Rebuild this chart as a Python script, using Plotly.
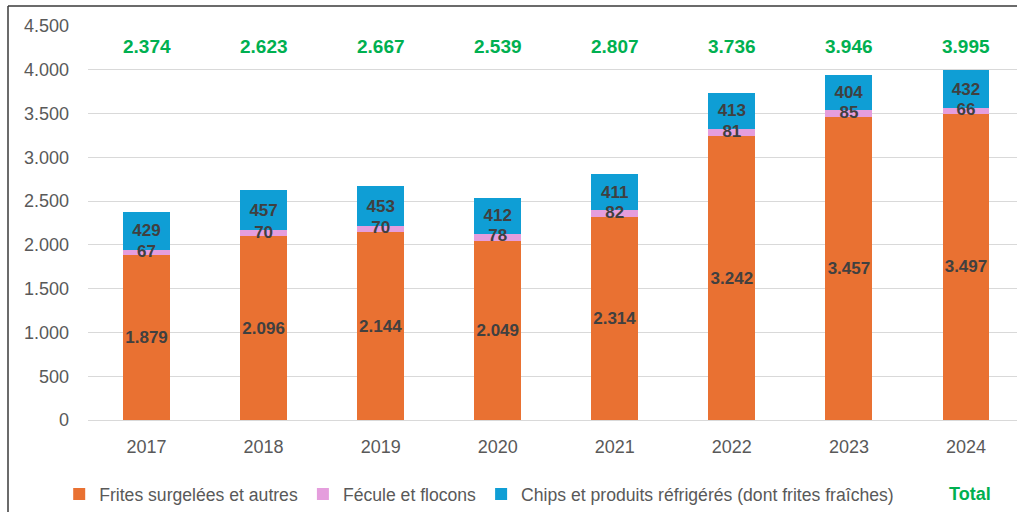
import plotly.graph_objects as go

years = ["2017", "2018", "2019", "2020", "2021", "2022", "2023", "2024"]
frites = [1879, 2096, 2144, 2049, 2314, 3242, 3457, 3497]
fecule = [67, 70, 70, 78, 82, 81, 85, 66]
chips = [429, 457, 453, 412, 411, 413, 404, 432]
totals = [2374, 2623, 2667, 2539, 2807, 3736, 3946, 3995]

series_names = [
    "Frites surgelées et autres",
    "Fécule et flocons",
    "Chips et produits réfrigérés (dont frites fraîches)",
]
colors = ["#E97132", "#E59EDD", "#0F9ED5"]
y_ticks = [0, 500, 1000, 1500, 2000, 2500, 3000, 3500, 4000, 4500]

LABEL_FONT = dict(family="Liberation Sans, Arial, sans-serif", size=17, color="#404040")


def fmt(v):
    return f"{v:,}".replace(",", ".")


fig = go.Figure()
for name, vals, col, show_text in zip(series_names, [frites, fecule, chips], colors, [True, False, True]):
    fig.add_trace(go.Bar(
        x=years, y=vals, name=name,
        marker=dict(color=col, line=dict(width=0)),
        width=0.4,
        text=[f"<b>{fmt(v)}</b>" for v in vals] if show_text else None,
        texttemplate="%{text}" if show_text else None,
        textposition="inside" if show_text else "none",
        insidetextanchor="middle",
        constraintext="none",
        textangle=0,
        textfont=LABEL_FONT,
        insidetextfont=LABEL_FONT,
        hoverinfo="x+y+name",
    ))

# Fécule labels drawn on top of the stack (so they overflow the thin segment)
fig.add_trace(go.Scatter(
    x=years,
    y=[f + p / 2 for f, p in zip(frites, fecule)],
    mode="text",
    text=[f"<b>{fmt(v)}</b>" for v in fecule],
    textposition="middle center",
    textfont=LABEL_FONT,
    showlegend=False,
    cliponaxis=False,
    hoverinfo="skip",
))

# Total labels in a fixed band above the bars
for i, tot in enumerate(totals):
    fig.add_annotation(
        x=i, y=0.947, xref="x", yref="paper",
        text=f"<b>{fmt(tot)}</b>",
        showarrow=False,
        font=dict(family="Liberation Sans, Arial, sans-serif", size=19, color="#00B050"),
        xanchor="center", yanchor="middle",
    )

# "Total" entry in the legend row
fig.add_annotation(
    x=(970 - 88) / 929, y=-0.188, xref="paper", yref="paper",
    text="<b>Total</b>", showarrow=False,
    font=dict(family="Liberation Sans, Arial, sans-serif", size=18, color="#00B050"),
    xanchor="center", yanchor="middle",
)

# chart border (left and top)
fig.add_shape(type="line", xref="paper", yref="paper",
              x0=(8 - 88) / 929, x1=(8 - 88) / 929, y0=(420 - 520) / 394, y1=(420 - 6) / 394,
              line=dict(color="#3a3a3a", width=1.5))
fig.add_shape(type="line", xref="paper", yref="paper",
              x0=(8 - 88) / 929, x1=1.05, y0=(420 - 6) / 394, y1=(420 - 6) / 394,
              line=dict(color="#3a3a3a", width=1.5))

fig.update_layout(
    width=1017, height=512,
    barmode="stack",
    separators=",.",
    paper_bgcolor="white",
    plot_bgcolor="white",
    margin=dict(l=88, r=0, t=26, b=92),
    font=dict(family="Liberation Sans, Arial, sans-serif", size=18, color="#595959"),
    showlegend=True,
    legend=dict(
        orientation="h",
        x=-0.031, xanchor="left",
        y=-0.188, yanchor="middle",
        font=dict(family="Liberation Sans, Arial, sans-serif", size=17.6, color="#595959"),
        traceorder="normal",
        itemclick=False,
        bgcolor="rgba(0,0,0,0)",
    ),
    xaxis=dict(
        type="category",
        range=[-0.5, 7.436],
        showgrid=False,
        showline=False,
        ticks="",
        tickfont=dict(size=18, color="#595959"),
        ticklabelstandoff=14,
    ),
    yaxis=dict(
        range=[0, 4500],
        tickvals=y_ticks,
        tickformat=",d",
        showgrid=True,
        gridcolor="#D9D9D9",
        gridwidth=1.3,
        zeroline=True,
        zerolinecolor="#D9D9D9",
        zerolinewidth=1.3,
        showline=False,
        ticks="",
        tickfont=dict(size=18, color="#595959"),
        ticklabelstandoff=18,
    ),
)

fig.write_html("out.html", config={"displayModeBar": False},
               post_script="document.body.style.margin='0';")
